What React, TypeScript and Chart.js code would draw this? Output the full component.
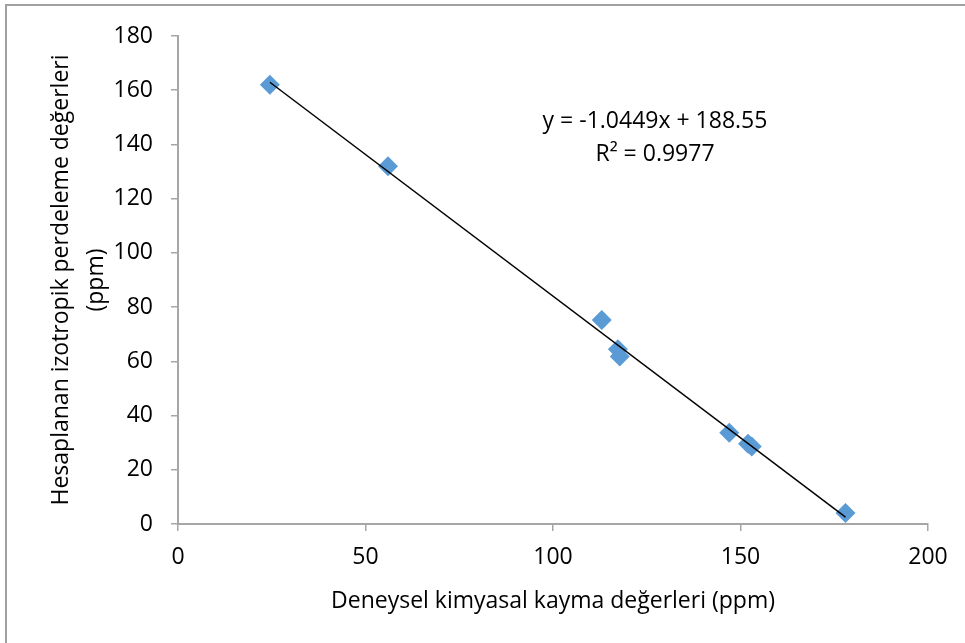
import React, { useEffect, useRef } from "react";
import { Chart, registerables } from "chart.js";

Chart.register(...registerables);

const xValues = [24.5, 56, 113, 117.3, 117.8, 147, 152, 153, 178];
const yValues = [162, 132, 75.2, 64.5, 61.8, 33.7, 29.6, 28.6, 4.1];
const slope = -1.0449;
const intercept = 188.55;
const r2 = 0.9977;
const xTicks = [0, 50, 100, 150, 200];
const yTicks = [0, 20, 40, 60, 80, 100, 120, 140, 160, 180];

const FONT = "'Open Sans', sans-serif";
const FS = 23;

const decorPlugin = {
  id: "decor",
  beforeDraw(chart: any) {
    const ctx = chart.ctx;
    ctx.save();
    ctx.strokeStyle = "#A0A0A0";
    ctx.lineWidth = 2;
    ctx.strokeRect(6, 5, chart.width + 10, chart.height + 10);
    ctx.restore();
  },
  afterDatasetsDraw(chart: any) {
    const ctx = chart.ctx;
    const xs = chart.scales.x;
    const ys = chart.scales.y;
    const cx = xs.getPixelForValue(127.2);
    const cy = ys.getPixelForValue(148.5);
    ctx.save();
    ctx.fillStyle = "#000";
    ctx.font = `${FS}px ${FONT}`;
    ctx.textAlign = "center";
    ctx.textBaseline = "middle";
    ctx.fillText(`y = ${slope.toFixed(4)}x + ${intercept.toFixed(2)}`, cx, cy);
    ctx.fillText(`R² = ${r2.toFixed(4)}`, cx, cy + 33);
    ctx.restore();
  },
};

export default function App() {
  const ref = useRef<HTMLCanvasElement>(null);
  useEffect(() => {
    if (!ref.current) return;
    const pts = xValues.map((x, i) => ({ x, y: yValues[i] }));
    const xMin = Math.min(...xValues);
    const xMax = Math.max(...xValues);
    const trend = [
      { x: xMin, y: slope * xMin + intercept },
      { x: xMax, y: slope * xMax + intercept },
    ];
    const chart = new Chart(ref.current, {
      type: "scatter",
      data: {
        datasets: [
          {
            type: "line",
            data: trend,
            borderColor: "#000",
            borderWidth: 1.5,
            pointRadius: 0,
            fill: false,
          } as any,
          {
            data: pts,
            pointStyle: "rectRot",
            pointRadius: 10,
            pointBackgroundColor: "#5B9BD5",
            pointBorderColor: "#5B9BD5",
            pointBorderWidth: 0,
          },
        ],
      },
      plugins: [decorPlugin],
      options: {
        responsive: false,
        animation: false,
        layout: { padding: { left: 0, top: 36, right: 37, bottom: 0 } },
        plugins: {
          legend: { display: false },
          tooltip: { enabled: false },
        },
        scales: {
          x: {
            type: "linear",
            min: 0,
            max: 200,
            afterBuildTicks: (s: any) => {
              s.ticks = xTicks.map((v) => ({ value: v }));
            },
            afterFit: (s: any) => {
              s.height = 119;
            },
            grid: {
              drawOnChartArea: false,
              drawTicks: true,
              tickLength: 7,
              color: "#A6A6A6",
              lineWidth: 1.5,
            },
            border: { color: "#A6A6A6", width: 2 },
            ticks: {
              color: "#000",
              padding: 13,
              font: { family: FONT, size: FS },
            },
            title: {
              display: true,
              text: "Deneysel kimyasal kayma değerleri (ppm)",
              color: "#000",
              font: { family: FONT, size: FS },
              padding: { top: 0, bottom: 28 },
            },
          },
          y: {
            type: "linear",
            min: 0,
            max: 180,
            afterBuildTicks: (s: any) => {
              s.ticks = yTicks.map((v) => ({ value: v }));
            },
            afterFit: (s: any) => {
              s.width = 178;
            },
            grid: {
              drawOnChartArea: false,
              drawTicks: true,
              tickLength: 7,
              color: "#A6A6A6",
              lineWidth: 1.5,
            },
            border: { color: "#A6A6A6", width: 2 },
            ticks: {
              color: "#000",
              padding: 18,
              font: { family: FONT, size: FS },
            },
            title: {
              display: true,
              text: ["Hesaplanan izotropik perdeleme değerleri", "(ppm)"],
              color: "#000",
              font: { family: FONT, size: FS, lineHeight: 1.52 },
              padding: { top: 44, bottom: 0 },
            },
          },
        },
      },
    });
    return () => chart.destroy();
  }, []);
  return (
    <div style={{ position: "absolute", left: 0, top: 0, width: 965, height: 643, background: "#fff" }}>
      <canvas ref={ref} width={965} height={643} style={{ display: "block" }} />
    </div>
  );
}
